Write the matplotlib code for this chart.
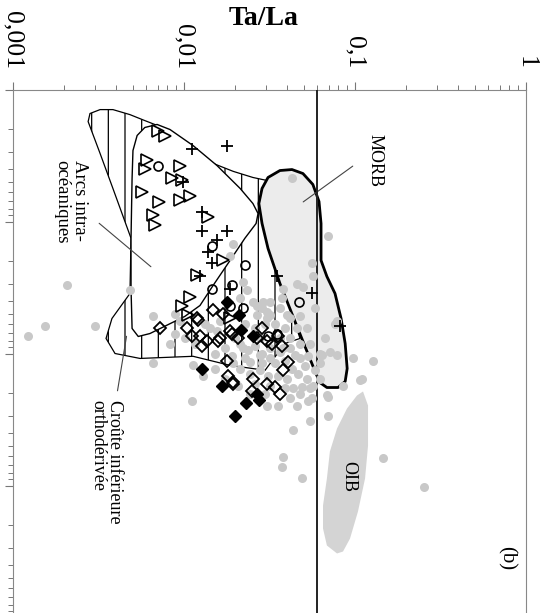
import matplotlib
matplotlib.use('Agg')
import matplotlib.pyplot as plt
from matplotlib.patches import Polygon
from matplotlib.ticker import NullFormatter

plt.rcParams['font.family'] = ['Liberation Serif', 'DejaVu Serif']
plt.rcParams['hatch.linewidth'] = 0.9

# Ta/La (horizontal, top axis) and the second ratio (vertical, log, increasing downward)
# fields
crust_ta_la = [0.00275, 0.00282, 0.00323, 0.00384, 0.00483, 0.0059, 0.00696, 0.0089, 0.0113, 0.0148,
               0.0194, 0.0253, 0.0306, 0.0310, 0.035, 0.0417, 0.0477, 0.0389, 0.0298, 0.0186,
               0.0113, 0.00553, 0.00395, 0.0035, 0.00379, 0.00483, 0.0049, 0.00384, 0.00323]
crust_y = [1.75, 1.52, 1.42, 1.42, 1.55, 1.72, 1.87, 2.23, 2.80, 3.63,
           4.17, 4.64, 4.89, 13.4, 25.6, 45.6, 76.9, 84.0, 134, 123,
           105, 109, 100, 76.9, 54.3, 35.1, 13.4, 5.62, 3.05]

arcs_ta_la = [0.00497, 0.00490, 0.00490, 0.00497, 0.00503, 0.00532, 0.00590, 0.00696, 0.00828, 0.0113,
              0.0156, 0.0213, 0.0253, 0.0271, 0.0264, 0.0227, 0.0186, 0.0148, 0.0124, 0.0101,
              0.00632, 0.00540]
arcs_y = [64.6, 32.2, 13.4, 4.72, 2.90, 2.23, 1.94, 1.84, 2.01, 2.66,
          3.77, 5.62, 7.31, 8.70, 10.35, 13.4, 19.7, 30.5, 43.3, 52.4,
          70.6, 74.3]

morb_ta_la = [0.0286, 0.0310, 0.0364, 0.0428, 0.0496, 0.0567, 0.0616, 0.0633, 0.0633, 0.0633,
              0.0685, 0.0764, 0.0829, 0.0876, 0.0900, 0.0876, 0.0796, 0.0685, 0.0623, 0.0575,
              0.0510, 0.0434, 0.0364, 0.0310, 0.0286, 0.0274]
morb_y = [5.62, 4.64, 4.11, 4.04, 4.33, 5.24, 7.06, 10.35, 14.7, 19.7,
          26.1, 35.1, 54.3, 84.0, 130, 163, 181, 181, 166, 130,
          88.5, 52.4, 29.5, 16.0, 10.35, 7.31]

oib_ta_la = [0.1114, 0.1192, 0.1192, 0.1145, 0.1041, 0.0935, 0.0851, 0.0785, 0.0685, 0.0650,
             0.0650, 0.0685, 0.0713, 0.0785, 0.0898, 0.1027]
oib_y = [194, 248, 498, 885, 1573, 2523, 3163, 3273, 2848, 2117,
         1417, 885, 553, 370, 261, 208]

# samples
gray_ta_la = [0.00122, 0.00154, 0.00207, 0.00302, 0.00483, 0.00659, 0.00659, 0.0089, 0.0095, 0.0111,
              0.0113, 0.0129, 0.0194, 0.0186, 0.0221, 0.0253, 0.0286, 0.0306, 0.0318, 0.0162,
              0.0156, 0.0267, 0.0428, 0.0694, 0.0560, 0.0567, 0.0458, 0.0496, 0.0379, 0.0374,
              0.0290, 0.0267, 0.0318, 0.0763, 0.0623, 0.0973, 0.127, 0.110, 0.0783, 0.0531,
              0.0379, 0.0306, 0.0400, 0.0524, 0.0783, 0.0458, 0.0207, 0.0221, 0.0243, 0.0278,
              0.0213, 0.0318, 0.0364, 0.0400, 0.0434, 0.0477, 0.0524, 0.0567, 0.0685, 0.0531,
              0.0458, 0.0355, 0.0306, 0.0545, 0.0434, 0.0379, 0.0374, 0.0490, 0.0640, 0.0713,
              0.0848, 0.0694, 0.145, 0.253, 0.0694, 0.0560, 0.0490, 0.107,
              0.0213, 0.0236, 0.0260, 0.0286, 0.0318, 0.0341, 0.0389, 0.0428, 0.0464, 0.0243,
              0.0278, 0.0310, 0.0355, 0.0227, 0.0260, 0.0417, 0.0477, 0.0545, 0.0510, 0.0583,
              0.0623, 0.0174, 0.0191, 0.0152, 0.0142, 0.0133, 0.0116, 0.0101, 0.0089, 0.0083,
              0.0260, 0.0298, 0.0341, 0.0389, 0.0417, 0.0227, 0.0364, 0.0417, 0.0477, 0.0583,
              0.0174, 0.0152, 0.0298, 0.0417, 0.0477, 0.0623, 0.0667, 0.0213, 0.0233, 0.0199,
              0.0278, 0.0364, 0.0318, 0.0389, 0.0545, 0.0243, 0.0194, 0.0286, 0.0446]
gray_y = [73.1, 61.4, 30.5, 62.4, 33.3, 52.4, 119, 49.8, 57.2, 231,
          123, 149, 14.7, 18.1, 28.5, 40.4, 45.6, 54.3, 40.4, 57.2,
          68.1, 51.5, 4.72, 12.8, 20.8, 26.1, 29.5, 31.1, 32.2, 38.3,
          40.4, 44.0, 51.5, 59.3, 100, 109, 113, 155, 103.5, 105,
          91.6, 48.1, 51.5, 64.6, 57.2, 64.6, 175, 91.6, 115, 103.5,
          130, 109, 96.6, 155, 184, 109, 155, 175, 208, 231,
          252, 252, 248, 327, 383, 603, 718, 885, 103.5, 96.6,
          175, 212, 614, 1035, 300, 219, 178, 160,
          84.0, 94.9, 88.5, 100, 91.6, 119, 113, 130, 142, 142,
          134, 149, 149, 109, 169, 91.6, 84.0, 84.0, 125, 134,
          119, 91.6, 105, 100, 64.6, 59.3, 84.0, 76.9, 70.6, 84.0,
          64.6, 59.3, 59.3, 64.6, 76.9, 59.3, 45.6, 54.3, 52.4, 45.6,
          155, 130, 201, 219, 201, 155, 76.9, 38.3, 33.3, 76.9,
          76.9, 76.9, 175, 184, 184, 201, 119, 119, 103.5]

tri_ta_la = [0.0070, 0.0077, 0.0061, 0.0059, 0.0095, 0.0085, 0.0097, 0.0108, 0.0095, 0.0057,
             0.0071, 0.0066, 0.0068, 0.0138, 0.0169, 0.0119, 0.0108, 0.0097, 0.0105, 0.0186]
tri_y = [2.08, 2.27, 3.45, 3.97, 3.77, 4.72, 4.89, 6.36, 6.93, 5.93,
         7.06, 9.0, 10.7, 9.2, 19.7, 25.6, 37.0, 44.0, 51.5, 54.3]

circ_ta_la = [0.0070, 0.0146, 0.0227, 0.0146, 0.0191, 0.0186, 0.0221, 0.0471, 0.035, 0.031]
circ_y = [3.77, 15.2, 21.5, 32.2, 30.5, 44.0, 45.6, 40.4, 70.6, 74.3]

plus_ta_la = [0.0178, 0.0111, 0.0099, 0.0127, 0.0127, 0.0178, 0.0156, 0.0138, 0.0146, 0.0124,
              0.0186, 0.035, 0.0561, 0.0818]
plus_y = [2.70, 2.80, 4.98, 8.40, 11.7, 11.9, 13.9, 16.9, 20.8, 26.1,
          32.2, 26.1, 35.1, 62.4]

dia_ta_la = [0.0148, 0.0119, 0.00724, 0.0104, 0.0111, 0.0124, 0.0136, 0.0162, 0.0191, 0.0121,
             0.0127, 0.0169, 0.0186, 0.0158, 0.0207, 0.0267, 0.0286, 0.0306, 0.0327, 0.0374,
             0.0355, 0.0406, 0.038, 0.0178, 0.0181, 0.0193, 0.0253, 0.0306, 0.0341, 0.0364,
             0.025, 0.0194]
dia_y = [47.2, 54.3, 64.6, 64.6, 73.1, 74.3, 81.1, 76.9, 70.6, 56.1,
         88.5, 49.8, 68.1, 79.8, 76.9, 76.9, 64.6, 79.8, 84.0, 88.5,
         74.3, 115, 134, 113, 147, 163, 157, 169, 178, 201,
         194, 169]

fdia_ta_la = [0.0178, 0.0210, 0.0214, 0.0253, 0.0127, 0.0167, 0.0267, 0.0276, 0.0232, 0.0199]
fdia_y = [40.4, 51.5, 66.9, 73.1, 130, 175, 201, 227, 239, 295]

ref_ta_la = 0.06
x_ticks = [0.001, 0.01, 0.1, 1]
x_tick_labels = ['0,001', '0,01', '0,1', '1']

fig = plt.figure(figsize=(5.55, 6.13), dpi=100)
ax = fig.add_axes([13 / 555, -4.5 / 613, 513 / 555, 528 / 613])
ax.set_xscale('log')
ax.set_yscale('log')
ax.set_xlim(0.001, 1)
ax.set_ylim(10000, 1)

# fields
ax.add_patch(Polygon(list(zip(crust_ta_la, crust_y)), closed=True, facecolor='white',
                     edgecolor='black', hatch='|', lw=0.9, zorder=1))
ax.add_patch(Polygon(list(zip(arcs_ta_la, arcs_y)), closed=True, facecolor='white',
                     edgecolor='black', lw=1.0, joinstyle='round', zorder=2))
ax.add_patch(Polygon(list(zip(morb_ta_la, morb_y)), closed=True, facecolor='#ececec',
                     edgecolor='black', lw=2.0, joinstyle='round', zorder=3))
ax.add_patch(Polygon(list(zip(oib_ta_la, oib_y)), closed=True, facecolor='#d4d4d4',
                     edgecolor='none', zorder=3))

ax.axvline(ref_ta_la, color='#222222', lw=1.4, zorder=4)

# samples
ax.plot(gray_ta_la, gray_y, 'o', ms=6.5, color='#c8c8c8', mec='none', zorder=5)
ax.plot(tri_ta_la, tri_y, '>', ms=8, mfc='none', mec='black', mew=1.2, zorder=6)
ax.plot(circ_ta_la, circ_y, 'o', ms=6.5, mfc='none', mec='black', mew=1.2, zorder=6)
ax.plot(plus_ta_la, plus_y, '+', ms=9, color='black', mew=1.3, zorder=6)
ax.plot(dia_ta_la, dia_y, 'D', ms=6.3, mfc='none', mec='black', mew=1.3, zorder=6)
ax.plot(fdia_ta_la, fdia_y, 'D', ms=6.3, color='black', zorder=6)

# labels of the fields
ax.text(0.131, 3.45, 'MORB', rotation=-90, fontsize=13, ha='center', va='center')
ax.annotate('', xy=(0.0483, 7.31), xytext=(0.1, 3.70),
            arrowprops=dict(arrowstyle='-', color='#444444', lw=0.8))
ax.text(0.00217, 3.45, 'Arcs intra-\nocéaniques', rotation=-90, fontsize=13.5,
        ha='center', va='top', multialignment='left', linespacing=1.0)
ax.annotate('', xy=(0.00659, 22.7), xytext=(0.0031, 10),
            arrowprops=dict(arrowstyle='-', color='#444444', lw=0.8))
ax.text(0.00352, 227, 'Croûte inférieure\northodérivée', rotation=-90, fontsize=13,
        ha='center', va='top', multialignment='left', linespacing=1.0)
ax.annotate('', xy=(0.00464, 70.6), xytext=(0.00406, 201),
            arrowprops=dict(arrowstyle='-', color='#444444', lw=0.8))
ax.text(0.0916, 857, 'OIB', rotation=-90, fontsize=13, ha='center', va='center')
ax.text(0.764, 3570, '(b)', rotation=-90, fontsize=15, ha='center', va='center')

# axes
ax.xaxis.tick_top()
ax.set_xticks(x_ticks, x_tick_labels, rotation=-90, fontsize=18.5)
ax.xaxis.set_minor_formatter(NullFormatter())
ax.yaxis.set_major_formatter(NullFormatter())
ax.yaxis.set_minor_formatter(NullFormatter())
ax.tick_params(which='major', length=6, width=0.8, color='#777777', pad=9)
ax.tick_params(which='minor', length=3.5, width=0.7, color='#777777')
ax.tick_params(axis='x', which='both', top=True, bottom=False, labeltop=True, labelbottom=False)
ax.tick_params(axis='y', which='both', left=True, right=False, labelleft=False)
for side in ['top', 'left', 'right']:
    ax.spines[side].set_color('#888888')
    ax.spines[side].set_linewidth(0.8)
ax.spines['bottom'].set_visible(False)

ax.xaxis.set_label_position('top')
ax.set_xlabel('Ta/La', fontsize=20, fontweight='bold')
ax.xaxis.set_label_coords(0.489, 1.134)
ax.xaxis.label.set_va('center')

fig.savefig('out.png', dpi=100)
